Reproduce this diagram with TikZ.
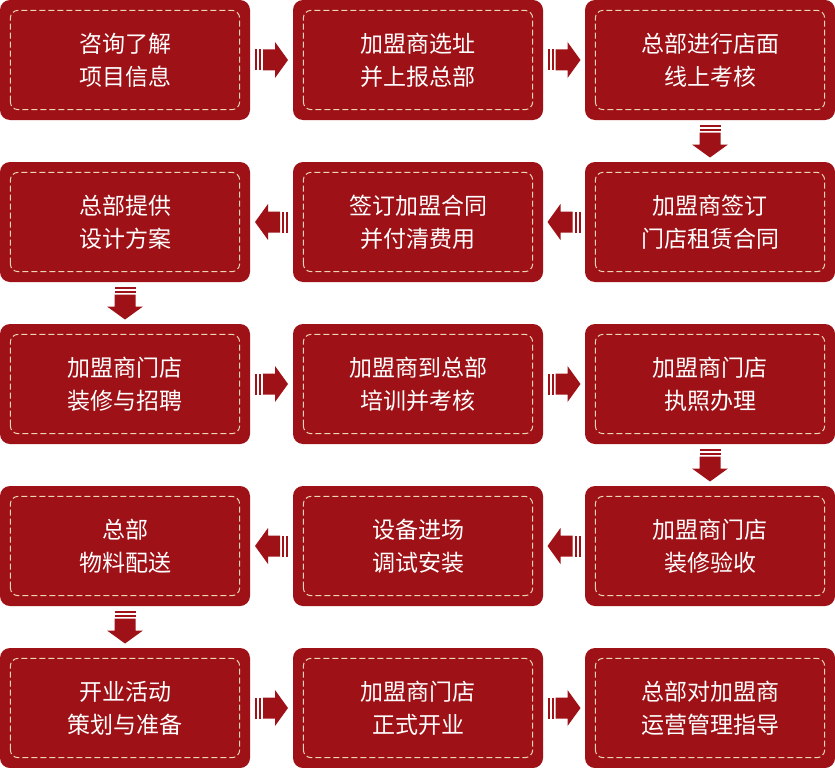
\documentclass[tikz,border=0pt]{standalone}
\usepackage{fontspec}
\newfontfamily\cjk{Noto Sans CJK SC}
\usetikzlibrary{calc}
\definecolor{jmred}{RGB}{158,17,22}
\definecolor{jmdash}{RGB}{236,214,178}
\tikzset{
  stage/.style={rectangle,rounded corners=10pt,fill=jmred,minimum width=250pt,minimum height=120pt,inner sep=0pt,text=white,align=center,font=\cjk\fontsize{23}{33}\selectfont},
  inner/.style={draw=jmdash,line width=1pt,dash pattern=on 6pt off 3pt,rounded corners=8pt},
  flow/.pic={
    \fill[jmred] (-16.5,-10.5) rectangle (-14.5,10.5);
    \fill[jmred] (-12.5,-10.5) rectangle (-10.5,10.5);
    \fill[jmred] (-8.5,-10.5) -- (3.5,-10.5) -- (3.5,-18) -- (16.5,0) -- (3.5,18) -- (3.5,10.5) -- (-8.5,10.5) -- cycle;
  }
}
\begin{document}
\begin{tikzpicture}[x=1pt,y=1pt]
\useasboundingbox (0,0) rectangle (835,-768);

% row 1
\node [stage] (s1) at (125,-60) {咨询了解\\项目信息};
\node [stage] (s2) at (418,-60) {加盟商选址\\并上报总部};
\node [stage] (s3) at (710,-60) {总部进行店面\\线上考核};
% row 2
\node [stage] (s4) at (710,-222) {加盟商签订\\门店租赁合同};
\node [stage] (s5) at (418,-222) {签订加盟合同\\并付清费用};
\node [stage] (s6) at (125,-222) {总部提供\\设计方案};
% row 3
\node [stage] (s7) at (125,-384) {加盟商门店\\装修与招聘};
\node [stage] (s8) at (418,-384) {加盟商到总部\\培训并考核};
\node [stage] (s9) at (710,-384) {加盟商门店\\执照办理};
% row 4
\node [stage] (s10) at (710,-546) {加盟商门店\\装修验收};
\node [stage] (s11) at (418,-546) {设备进场\\调试安装};
\node [stage] (s12) at (125,-546) {总部\\物料配送};
% row 5
\node [stage] (s13) at (125,-708) {开业活动\\策划与准备};
\node [stage] (s14) at (418,-708) {加盟商门店\\正式开业};
\node [stage] (s15) at (710,-708) {总部对加盟商\\运营管理指导};

\foreach \n in {1,...,15}
    \draw[inner] ([shift={(10.5,10.5)}]s\n.south west) rectangle ([shift={(-10.5,-10.5)}]s\n.north east);

\foreach \a/\b/\r in {s1/s2/0,s2/s3/0,s3/s4/-90,s4/s5/180,s5/s6/180,s6/s7/-90,s7/s8/0,
    s8/s9/0,s9/s10/-90,s10/s11/180,s11/s12/180,s12/s13/-90,s13/s14/0,s14/s15/0}
    \pic[rotate=\r] at ($(\a)!0.5!(\b)$) {flow};

\end{tikzpicture}
\end{document}
